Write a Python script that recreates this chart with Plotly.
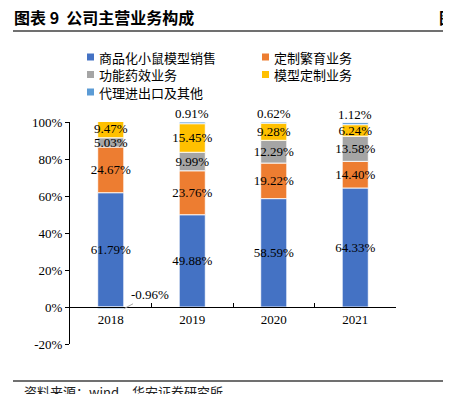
import plotly.graph_objects as go

# The page body adds an 8px margin, so the figure is made 8px smaller and
# page-pixel positions are converted to figure pixels.
OFF = 8
W, H = 451 - OFF, 394 - OFF
ML, MT = 70 - OFF, 122 - OFF
PLOT_R, PLOT_B = 396 - OFF, 344 - OFF
MR, MB = W - PLOT_R, H - PLOT_B
PW, PH = W - ML - MR, H - MT - MB

years = ["2018", "2019", "2020", "2021"]
series_names = ["商品化小鼠模型销售", "定制繁育业务", "功能药效业务", "模型定制业务", "代理进出口及其他"]
colors = ["#4472C4", "#ED7D31", "#A5A5A5", "#FFC000", "#5B9BD5"]
mouse_sales = [61.79, 49.88, 58.59, 64.33]
custom_breeding = [24.67, 23.76, 19.22, 14.40]
pharma_eff = [5.03, 9.99, 12.29, 13.58]
model_custom = [9.47, 15.45, 9.28, 6.24]
import_other = [-0.96, 0.91, 0.62, 1.12]
y_ticks = [-20, 0, 20, 40, 60, 80, 100]
y_range = [-20, 100]

values = [mouse_sales, custom_breeding, pharma_eff, model_custom, import_other]

def px2x(px):
    return (px - OFF - ML) / PW

def py2y(py):
    return (H - MB - (py - OFF)) / PH

serif = "Liberation Serif, Times New Roman, serif"
cjk = "Noto Sans CJK SC, sans-serif"

fig = go.Figure()
for i, (name, vals, col) in enumerate(zip(series_names, values, colors)):
    is_last = i == len(series_names) - 1
    fig.add_trace(go.Bar(
        x=years, y=vals, name=name,
        marker=dict(color=col, line=dict(color="rgba(255,255,255,0.85)", width=1)),
        text=None if is_last else [f"{v:.2f}%" for v in vals],
        textposition="inside", insidetextanchor="middle",
        constraintext="none", textangle=0,
        textfont=dict(family=serif, size=13, color="#000000"),
        hoverinfo="skip", showlegend=False,
    ))

annotations = []
shapes = []
# labels for the small last segment
tops = [sum(vs[j] for vs in values[:-1]) for j in range(len(years))]
for j, (v, base) in enumerate(zip(import_other, tops)):
    if v >= 0:
        annotations.append(dict(x=j, y=base + v, xref="x", yref="y", text=f"{v:.2f}%",
                                showarrow=False, yanchor="bottom", yshift=-1,
                                font=dict(family=serif, size=13, color="#000")))
    else:
        annotations.append(dict(x=j, y=v, xref="x", yref="y", text=f"{v:.2f}%",
                                showarrow=True, arrowhead=0, arrowwidth=1, arrowcolor="#A6A6A6",
                                ax=26, ay=-14, xshift=13, standoff=0,
                                font=dict(family=serif, size=13, color="#000")))

# manual legend (two columns)
leg_cols = [87, 262]
leg_rows = [57, 74.5, 92]
for i, (name, col) in enumerate(zip(series_names, colors)):
    cx = leg_cols[i % 2]
    cy = leg_rows[i // 2]
    shapes.append(dict(type="rect", xref="paper", yref="paper",
                       x0=px2x(cx), x1=px2x(cx + 7), y0=py2y(cy + 3.5), y1=py2y(cy - 3.5),
                       fillcolor=col, line=dict(width=0)))
    annotations.append(dict(x=px2x(cx + 10), y=py2y(cy), xref="paper", yref="paper", text=name,
                            showarrow=False, xanchor="left", yanchor="middle",
                            font=dict(family=cjk, size=13, color="#000")))

# title & footer & neighbouring text
annotations.append(dict(x=px2x(12), y=py2y(17), xref="paper", yref="paper", text="<b>图表 9  公司主营业务构成</b>",
                        showarrow=False, xanchor="left", yanchor="middle",
                        font=dict(family=cjk, size=16, color="#000")))
annotations.append(dict(x=px2x(437), y=py2y(17), xref="paper", yref="paper", text="<b>图</b>",
                        showarrow=False, xanchor="left", yanchor="middle",
                        font=dict(family=cjk, size=16, color="#000")))
annotations.append(dict(x=px2x(22), y=py2y(391), xref="paper", yref="paper", text="资料来源：wind，华安证券研究所",
                        showarrow=False, xanchor="left", yanchor="middle",
                        font=dict(family=cjk, size=13, color="#222")))
right_labels = ["90%", "80%", "70%", "60%", "50%", "40%", "30%", "20%", "10%"]
for k, t in enumerate(right_labels):
    annotations.append(dict(x=px2x(444), y=py2y(116 + 23 * k), xref="paper", yref="paper", text=t,
                            showarrow=False, xanchor="left", yanchor="middle",
                            font=dict(family=serif, size=13, color="#555")))

shapes += [
    dict(type="line", xref="paper", yref="paper", x0=px2x(13), x1=px2x(451), y0=py2y(31), y1=py2y(31),
         line=dict(color="#404040", width=1.5)),
    dict(type="line", xref="paper", yref="paper", x0=px2x(13), x1=px2x(451), y0=py2y(381), y1=py2y(381),
         line=dict(color="#404040", width=1.5)),
]

fig.update_layout(
    width=W, height=H,
    margin=dict(l=ML, r=MR, t=MT, b=MB, autoexpand=False),
    barmode="relative", bargap=0.68,
    plot_bgcolor="white", paper_bgcolor="white",
    font=dict(family=serif, size=13, color="#000"),
    showlegend=False,
    xaxis=dict(type="category", anchor="free", position=(0 - y_range[0]) / (y_range[1] - y_range[0]),
               range=[-0.5, len(years) - 0.5],
               showline=True, linecolor="#000", linewidth=1,
               ticks="inside", tickson="boundaries", ticklen=4, tickcolor="#000",
               showgrid=False, tickfont=dict(family=serif, size=13)),
    yaxis=dict(range=y_range, tickvals=y_ticks, ticktext=[f"{t}%" for t in y_ticks],
               showline=True, linecolor="#000", linewidth=1, ticks="outside", ticklen=4,
               tickcolor="#000", showgrid=False, zeroline=False,
               tickfont=dict(family=serif, size=13)),
    annotations=annotations, shapes=shapes,
)

fig.write_html("out.html")
